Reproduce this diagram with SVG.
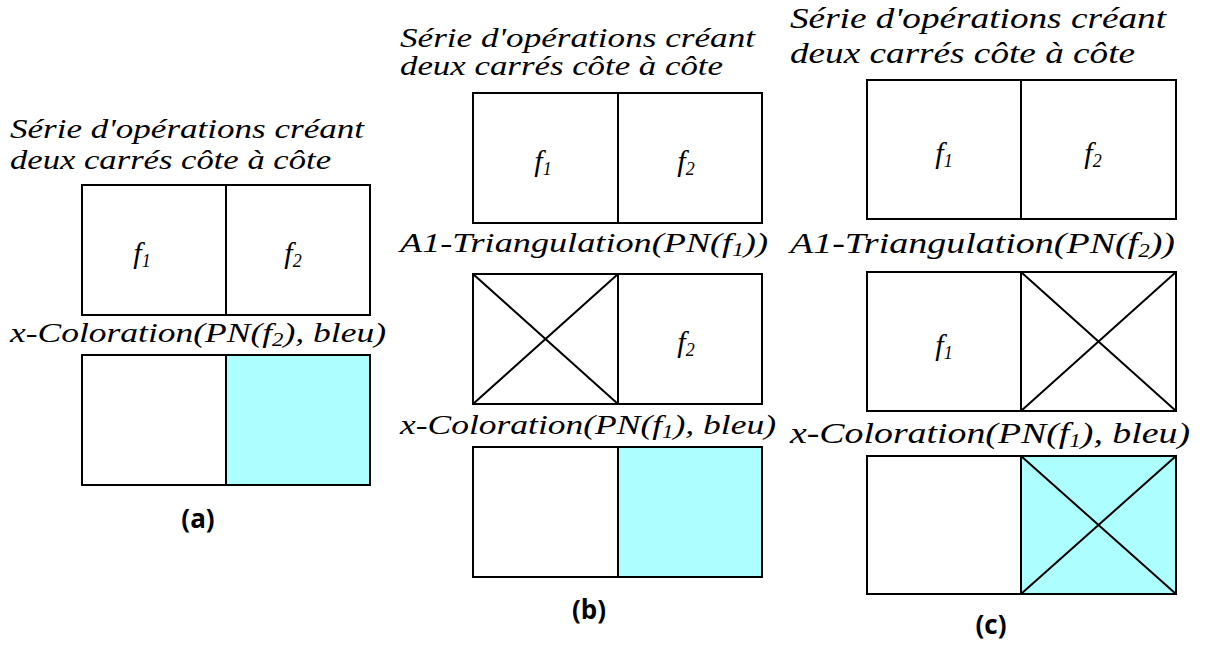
<svg xmlns="http://www.w3.org/2000/svg" width="1205" height="648" viewBox="0 0 1205 648">
<style>
.t,.tc,.f{font-family:Liberation Serif,DejaVu Serif,serif;font-style:italic;fill:#000}
.t{font-size:28px}
.tc{font-size:29.7px}
.f{font-size:30px}
.s{font-size:18px}
.cap{font-family:Open Sans,DejaVu Sans,sans-serif;font-weight:bold;font-size:26px;fill:#000}
.box{fill:#fff;stroke:#000;stroke-width:2}
.blue{fill:#adfeff;stroke:#000;stroke-width:2}
.ln{stroke:#000;stroke-width:2;fill:none}
</style>
<rect width="1205" height="648" fill="#fff"/>

<g id="panel-a" font-family="Liberation Serif, serif">
  <text class="t" x="10" y="138" textLength="354" lengthAdjust="spacingAndGlyphs">Série d'opérations créant</text>
  <text class="t" x="10" y="169" textLength="321" lengthAdjust="spacingAndGlyphs">deux carrés côte à côte</text>
  <g id="a-box1">
    <rect class="box" x="82" y="185" width="144" height="130"/>
    <rect class="box" x="226" y="185" width="144" height="130"/>
    <text class="f" x="142" y="263" text-anchor="middle">f<tspan class="s" dy="4">1</tspan></text>
    <text class="f" x="293" y="263" text-anchor="middle">f<tspan class="s" dy="4">2</tspan></text>
  </g>
  <text class="t" x="10" y="342" textLength="376" lengthAdjust="spacingAndGlyphs">x-Coloration(PN(f<tspan class="s" dy="4">2</tspan><tspan dy="-4">), bleu)</tspan></text>
  <g id="a-box2">
    <rect class="box" x="82" y="355" width="144" height="130"/>
    <rect class="blue" x="226" y="355" width="144" height="130"/>
  </g>
  <text class="cap" x="198" y="528" text-anchor="middle">(a)</text>
</g>

<g id="panel-b" font-family="Liberation Serif, serif">
  <text class="t" x="400" y="47" textLength="355" lengthAdjust="spacingAndGlyphs">Série d'opérations créant</text>
  <text class="t" x="400" y="75" textLength="323" lengthAdjust="spacingAndGlyphs">deux carrés côte à côte</text>
  <g id="b-box1">
    <rect class="box" x="473" y="93" width="145" height="130"/>
    <rect class="box" x="618" y="93" width="144" height="130"/>
    <text class="f" x="543" y="171" text-anchor="middle">f<tspan class="s" dy="4">1</tspan></text>
    <text class="f" x="686" y="171" text-anchor="middle">f<tspan class="s" dy="4">2</tspan></text>
  </g>
  <text class="t" x="400" y="252" textLength="368" lengthAdjust="spacingAndGlyphs">A1-Triangulation(PN(f<tspan class="s" dy="4">1</tspan><tspan dy="-4">))</tspan></text>
  <g id="b-box2">
    <rect class="box" x="473" y="274" width="145" height="130"/>
    <rect class="box" x="618" y="274" width="144" height="130"/>
    <path class="ln" d="M473 274 L618 404 M618 274 L473 404"/>
    <text class="f" x="686" y="352" text-anchor="middle">f<tspan class="s" dy="4">2</tspan></text>
  </g>
  <text class="t" x="400" y="434" textLength="376" lengthAdjust="spacingAndGlyphs">x-Coloration(PN(f<tspan class="s" dy="4">1</tspan><tspan dy="-4">), bleu)</tspan></text>
  <g id="b-box3">
    <rect class="box" x="473" y="447" width="145" height="130"/>
    <rect class="blue" x="618" y="447" width="144" height="130"/>
  </g>
  <text class="cap" x="589" y="619" text-anchor="middle">(b)</text>
</g>

<g id="panel-c" font-family="Liberation Serif, serif">
  <text class="tc" x="790" y="28" textLength="376" lengthAdjust="spacingAndGlyphs">Série d'opérations créant</text>
  <text class="tc" x="790" y="63" textLength="345" lengthAdjust="spacingAndGlyphs">deux carrés côte à côte</text>
  <g id="c-box1">
    <rect class="box" x="867" y="80" width="154" height="139"/>
    <rect class="box" x="1021" y="80" width="155" height="139"/>
    <text class="f" x="944" y="163" text-anchor="middle" font-size="32">f<tspan class="s" dy="4" font-size="19">1</tspan></text>
    <text class="f" x="1093" y="163" text-anchor="middle" font-size="32">f<tspan class="s" dy="4" font-size="19">2</tspan></text>
  </g>
  <text class="tc" x="790" y="253" textLength="385" lengthAdjust="spacingAndGlyphs">A1-Triangulation(PN(f<tspan class="s" dy="4" font-size="19">2</tspan><tspan dy="-4">))</tspan></text>
  <g id="c-box2">
    <rect class="box" x="867" y="272" width="154" height="139"/>
    <rect class="box" x="1021" y="272" width="155" height="139"/>
    <path class="ln" d="M1021 272 L1176 411 M1176 272 L1021 411"/>
    <text class="f" x="944" y="355" text-anchor="middle" font-size="32">f<tspan class="s" dy="4" font-size="19">1</tspan></text>
  </g>
  <text class="tc" x="790" y="443" textLength="400" lengthAdjust="spacingAndGlyphs">x-Coloration(PN(f<tspan class="s" dy="4" font-size="19">1</tspan><tspan dy="-4">), bleu)</tspan></text>
  <g id="c-box3">
    <rect class="box" x="867" y="456" width="154" height="138"/>
    <rect class="blue" x="1021" y="456" width="155" height="138"/>
    <path class="ln" d="M1021 456 L1176 594 M1176 456 L1021 594"/>
  </g>
  <text class="cap" x="991" y="634" text-anchor="middle">(c)</text>
</g>
</svg>
